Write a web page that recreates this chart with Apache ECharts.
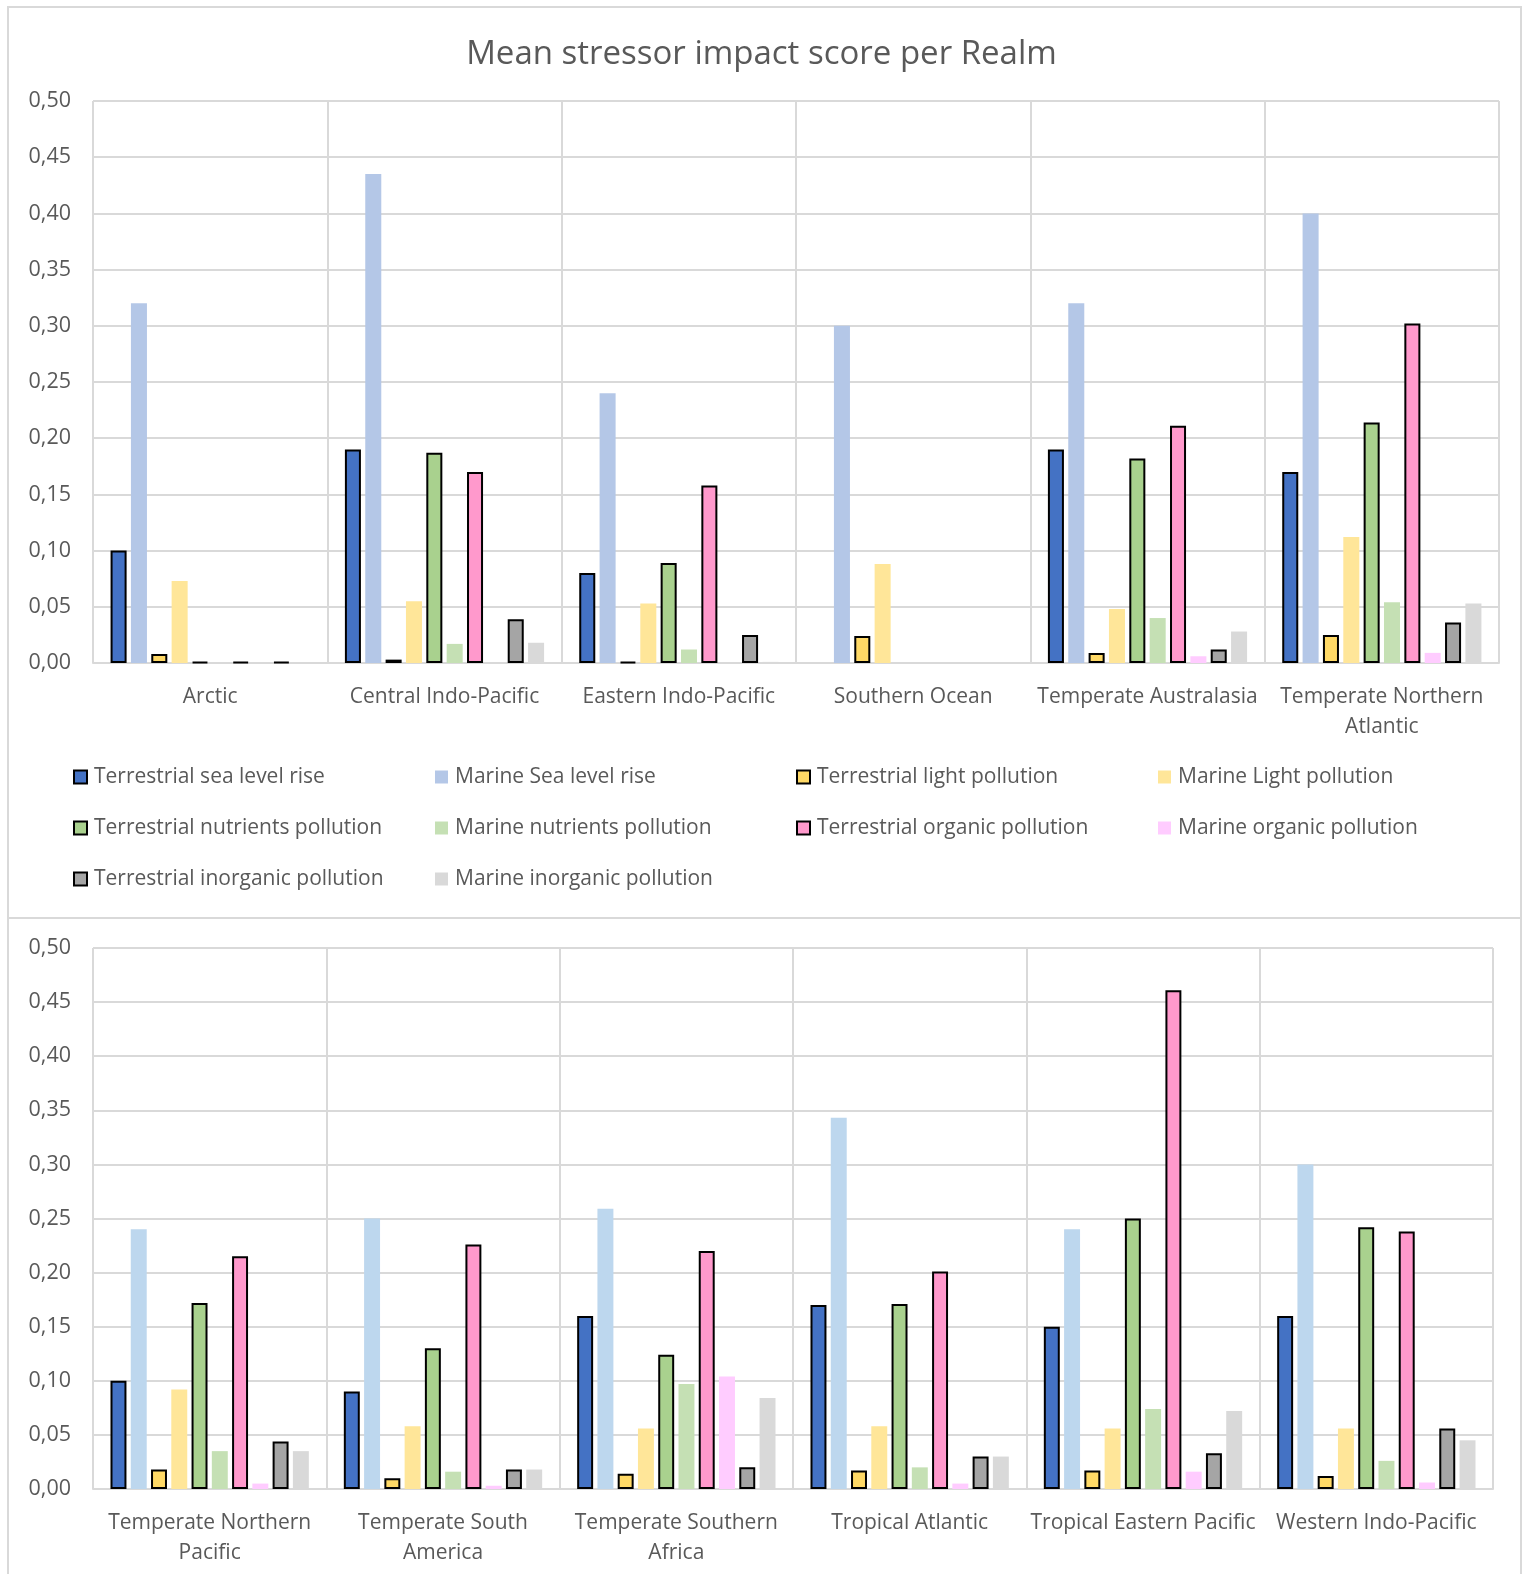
<!DOCTYPE html>
<html>
<head>
<meta charset="utf-8">
<script src="https://cdn.jsdelivr.net/npm/echarts@6/dist/echarts.min.js"></script>
<style>
  html, body { margin: 0; padding: 0; background: #ffffff; }
  #chart { width: 1523px; height: 1574px; }
</style>
</head>
<body>
<div id="chart"></div>
<script>
// Realms: first six in the upper panel, last six in the lower panel
const realms = [
  'Arctic', 'Central Indo-Pacific', 'Eastern Indo-Pacific', 'Southern Ocean',
  'Temperate Australasia', 'Temperate Northern\nAtlantic',
  'Temperate Northern\nPacific', 'Temperate South\nAmerica', 'Temperate Southern\nAfrica',
  'Tropical Atlantic', 'Tropical Eastern Pacific', 'Western Indo-Pacific'
];

// Mean impact score per stressor, one value per realm (same order as realms)
const terrestrialSeaLevelRise   = [0.100, 0.190, 0.080, 0,     0.190, 0.170, 0.100, 0.090, 0.160, 0.170, 0.150, 0.160];
const marineSeaLevelRise        = [0.320, 0.435, 0.240, 0.300, 0.320, 0.400, 0.240, 0.250, 0.259, 0.343, 0.240, 0.300];
const terrestrialLight          = [0.008, 0.003, 0.001, 0.024, 0.009, 0.025, 0.018, 0.010, 0.014, 0.017, 0.017, 0.012];
const marineLight               = [0.073, 0.055, 0.053, 0.088, 0.048, 0.112, 0.092, 0.058, 0.056, 0.058, 0.056, 0.056];
const terrestrialNutrients      = [0.001, 0.187, 0.089, 0,     0.182, 0.214, 0.172, 0.130, 0.124, 0.171, 0.250, 0.242];
const marineNutrients           = [0,     0.017, 0.012, 0,     0.040, 0.054, 0.035, 0.016, 0.097, 0.020, 0.074, 0.026];
const terrestrialOrganic        = [0.001, 0.170, 0.158, 0,     0.211, 0.302, 0.215, 0.226, 0.220, 0.201, 0.461, 0.238];
const marineOrganic             = [0,     0,     0,     0,     0.006, 0.009, 0.005, 0.003, 0.104, 0.005, 0.016, 0.006];
const terrestrialInorganic      = [0.001, 0.039, 0.025, 0,     0.012, 0.036, 0.044, 0.018, 0.020, 0.030, 0.033, 0.056];
const marineInorganic           = [0,     0.018, 0.001, 0,     0.028, 0.053, 0.035, 0.018, 0.084, 0.030, 0.072, 0.045];

const yTicks = [0, 0.05, 0.10, 0.15, 0.20, 0.25, 0.30, 0.35, 0.40, 0.45, 0.50];

const stressors = [
  { name: 'Terrestrial sea level rise',      data: terrestrialSeaLevelRise, color: '#4472C4', border: true },
  { name: 'Marine Sea level rise',           data: marineSeaLevelRise,      color: '#B4C7E7', colorLower: '#BDD7EE', border: false },
  { name: 'Terrestrial light pollution',     data: terrestrialLight,        color: '#FFD966', border: true },
  { name: 'Marine Light pollution',          data: marineLight,             color: '#FFE699', border: false },
  { name: 'Terrestrial nutrients pollution', data: terrestrialNutrients,    color: '#A9D18E', border: true },
  { name: 'Marine nutrients pollution',      data: marineNutrients,         color: '#C5E0B4', border: false },
  { name: 'Terrestrial organic pollution',   data: terrestrialOrganic,      color: '#FF99CC', border: true },
  { name: 'Marine organic pollution',        data: marineOrganic,           color: '#FFCCFF', border: false },
  { name: 'Terrestrial inorganic pollution', data: terrestrialInorganic,    color: '#A5A5A5', border: true },
  { name: 'Marine inorganic pollution',      data: marineInorganic,         color: '#D9D9D9', border: false }
];

const FONT = 'Open Sans';
const TEXT = '#595959';
const GRIDLINE = '#D9D9D9';

const chart = echarts.init(document.getElementById('chart'), null, { renderer: 'canvas' });

function xAxisFor(idx, cats) {
  return {
    type: 'category', gridIndex: idx, data: cats,
    axisLine: { show: true, lineStyle: { color: GRIDLINE, width: 2 } },
    axisTick: { show: false },
    splitLine: { show: true, interval: 0, lineStyle: { color: GRIDLINE, width: 2 } },
    axisLabel: { interval: 0, margin: 19, color: TEXT, fontFamily: FONT, fontSize: 21, lineHeight: 30 }
  };
}
function yAxisFor(idx) {
  return {
    type: 'value', gridIndex: idx, min: 0, max: yTicks[yTicks.length - 1], interval: yTicks[1],
    axisLine: { show: false }, axisTick: { show: false },
    splitLine: { show: true, lineStyle: { color: GRIDLINE, width: 2 } },
    axisLabel: {
      margin: 22, color: TEXT, fontFamily: FONT, fontSize: 21.5,
      formatter: v => v.toFixed(2).replace('.', ',')
    }
  };
}

const series = [];
[0, 1].forEach(panel => {
  stressors.forEach(s => {
    const vals = s.data.slice(panel * 6, panel * 6 + 6).map(v => (v === 0 ? '-' : v));
    const color = panel === 1 && s.colorLower ? s.colorLower : s.color;
    series.push({
      type: 'bar', name: s.name, xAxisIndex: panel, yAxisIndex: panel, data: vals,
      barGap: '27%', barCategoryGap: '15%',
      itemStyle: s.border
        ? { color: color, borderColor: '#000000', borderWidth: 2 }
        : { color: color, borderWidth: 0 },
      emphasis: { disabled: true }
    });
  });
});

// Legend laid out as a 4-column grid, one component per entry
const legendCols = [73, 435, 796, 1158];
const legendRowsY = [775, 826, 877];
const legends = stressors.map((s, i) => ({
  left: legendCols[i % 4], top: legendRowsY[Math.floor(i / 4)] - 12, padding: 0,
  itemWidth: 13, itemHeight: 13, icon: 'rect', selectedMode: false,
  data: [s.name],
  textStyle: { color: TEXT, fontFamily: FONT, fontSize: 21, lineHeight: 28, padding: [0, 0, 0, 2] }
}));

chart.setOption({
  animation: false,
  backgroundColor: '#ffffff',
  title: {
    text: 'Mean stressor impact score per Realm', left: 'center', top: 33,
    textStyle: { color: TEXT, fontFamily: FONT, fontSize: 33, fontWeight: 'normal' }
  },
  legend: legends,
  grid: [
    { left: 93, top: 101, width: 1406, height: 562 },
    { left: 93, top: 948, width: 1400, height: 541 }
  ],
  xAxis: [xAxisFor(0, realms.slice(0, 6)), xAxisFor(1, realms.slice(6, 12))],
  yAxis: [yAxisFor(0), yAxisFor(1)],
  series: series,
  graphic: [
    { type: 'rect', shape: { x: 8, y: 7, width: 1513, height: 911 }, style: { fill: null, stroke: GRIDLINE, lineWidth: 2 }, silent: true },
    { type: 'rect', shape: { x: 8, y: 918, width: 1513, height: 680 }, style: { fill: null, stroke: GRIDLINE, lineWidth: 2 }, silent: true }
  ]
});
</script>
</body>
</html>
